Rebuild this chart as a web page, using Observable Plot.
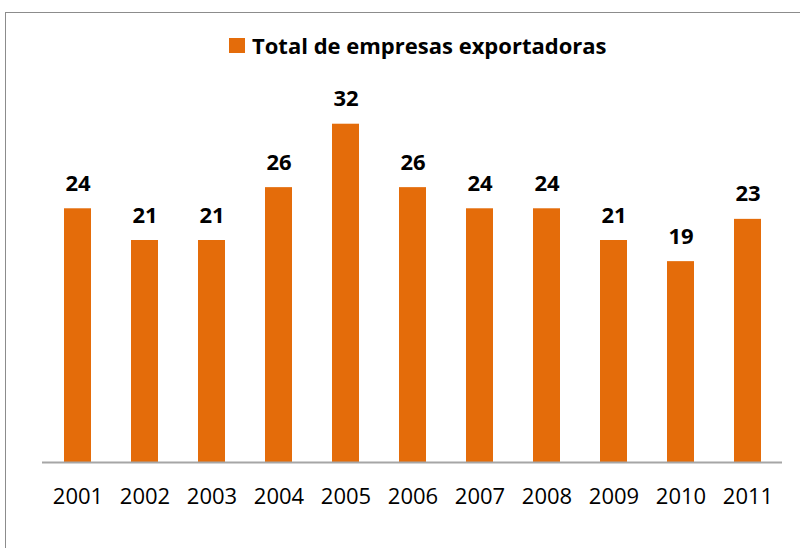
<!DOCTYPE html>
<html>
<head>
<meta charset="utf-8">
<script src="https://cdn.jsdelivr.net/npm/d3@7"></script>
<script src="https://cdn.jsdelivr.net/npm/@observablehq/plot@0.6"></script>
<style>
  html, body { margin: 0; padding: 0; background: #fff; width: 800px; height: 548px; overflow: hidden; }
  #frame { position: absolute; left: 5px; top: 12px; width: 900px; height: 700px; border: 1px solid #8c8c8c; box-sizing: border-box; }
  #legend { position: absolute; left: 229px; top: 30px; height: 30px; display: flex; align-items: center; font-family: "Open Sans", sans-serif; font-weight: bold; font-size: 22px; color: #000; white-space: nowrap; }
  #legend .sw { width: 16px; height: 15px; background: #E46C0A; margin-right: 7px; }
  #chart { position: absolute; left: 0; top: 70px; }
</style>
</head>
<body>
<div id="frame"></div>
<div id="legend"><span class="sw"></span><span class="lbl">Total de empresas exportadoras</span></div>
<div id="chart"></div>
<script>
const years = ["2001", "2002", "2003", "2004", "2005", "2006", "2007", "2008", "2009", "2010", "2011"];
const empresas = [24, 21, 21, 26, 32, 26, 24, 24, 21, 19, 23];
const seriesName = "Total de empresas exportadoras";

const data = years.map((y, i) => ({year: y, value: empresas[i]}));

const chart = Plot.plot({
  width: 800,
  height: 478,
  marginLeft: 42,
  marginRight: 18,
  marginTop: 22,
  marginBottom: 86,
  style: {fontFamily: "Open Sans, sans-serif", fontSize: "22px", color: "#000", background: "transparent"},
  x: {domain: years, paddingInner: 0.6, paddingOuter: 0.3, label: null},
  y: {domain: [0, 35], axis: null},
  marks: [
    Plot.barY(data, {x: "year", y: "value", fill: "#E46C0A"}),
    Plot.ruleY([0], {stroke: "#a6a6a6", strokeWidth: 2}),
    Plot.text(data, {x: "year", y: "value", text: d => String(d.value), lineAnchor: "bottom", dy: -18, fontWeight: "bold", fill: "#000"}),
    Plot.axisX({tickSize: 0, tickPadding: 26, label: null, fill: "#000"})
  ]
});
document.getElementById("chart").appendChild(chart);
</script>
</body>
</html>
